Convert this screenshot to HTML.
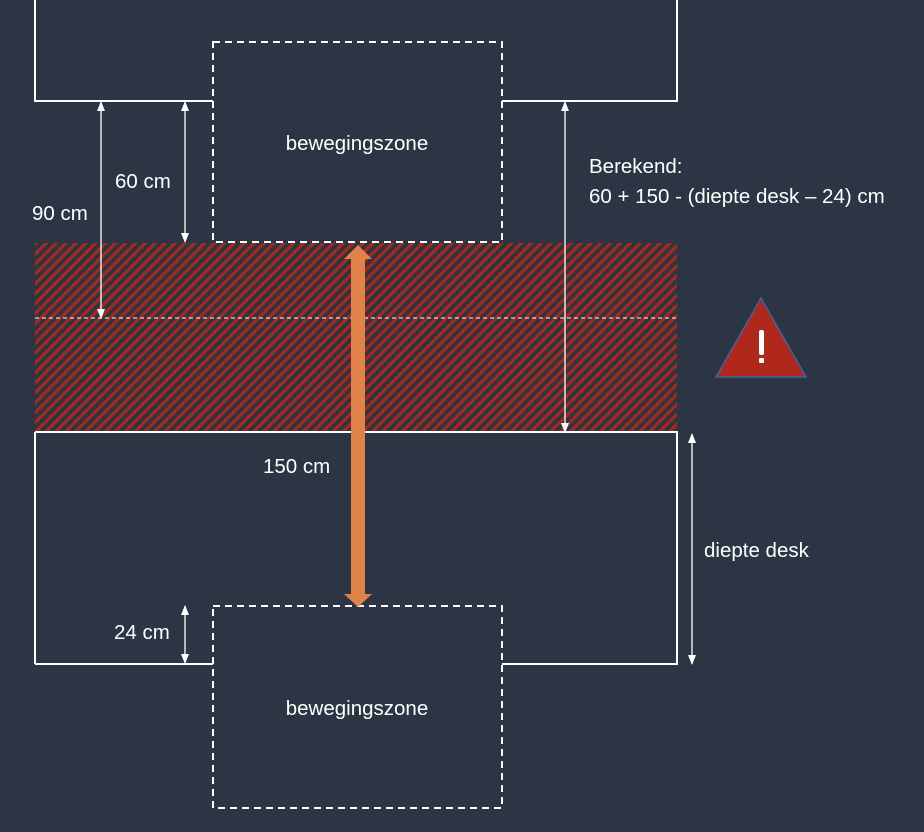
<!DOCTYPE html>
<html><head><meta charset="utf-8"><style>
html,body{margin:0;padding:0;background:#2b3544;}
svg{display:block;}
text{font-family:"Liberation Sans",sans-serif;fill:#fff;font-size:20.5px;}
</style></head><body>
<svg width="924" height="832" viewBox="0 0 924 832" xmlns="http://www.w3.org/2000/svg">
<defs>
<pattern id="h" patternUnits="userSpaceOnUse" width="7" height="7" patternTransform="rotate(45)">
<rect width="7" height="7" fill="#2b3544"/>
<rect width="3.2" height="7" fill="#a8281a"/>
</pattern>
<marker id="a" markerWidth="10" markerHeight="10" refX="9" refY="5" orient="auto-start-reverse" markerUnits="userSpaceOnUse">
<path d="M0,1 L10,5 L0,9 z" fill="#fff"/>
</marker>
</defs>
<rect width="924" height="832" fill="#2b3544"/>
<rect x="35" y="243" width="642" height="189" fill="url(#h)"/>
<line x1="35" y1="318" x2="677" y2="318" stroke="#fff" stroke-width="1" stroke-dasharray="4,3"/>
<path d="M35,0 V101 H213 M502,101 H677 V0" fill="none" stroke="#fff" stroke-width="2"/>
<path d="M35,432 H677 V664 H502 M213,664 H35 Z" fill="none" stroke="#fff" stroke-width="2"/>
<line x1="35" y1="432" x2="35" y2="664" stroke="#fff" stroke-width="2"/>
<rect x="213" y="42" width="289" height="200" fill="none" stroke="#fff" stroke-width="2" stroke-dasharray="7,5"/>
<rect x="213" y="606" width="289" height="202" fill="none" stroke="#fff" stroke-width="2" stroke-dasharray="7,5"/>
<text x="357" y="150" text-anchor="middle">bewegingszone</text>
<text x="357" y="715" text-anchor="middle">bewegingszone</text>
<g stroke="#fff" stroke-width="1.3" marker-start="url(#a)" marker-end="url(#a)">
<line x1="101" y1="102" x2="101" y2="318"/>
<line x1="185" y1="102" x2="185" y2="242"/>
<line x1="565" y1="102" x2="565" y2="432"/>
<line x1="692" y1="434" x2="692" y2="664"/>
<line x1="185" y1="606" x2="185" y2="663"/>
</g>
<text x="32" y="220">90 cm</text>
<text x="115" y="188">60 cm</text>
<text x="114" y="639">24 cm</text>
<text x="263" y="473">150 cm</text>
<text x="704" y="557">diepte desk</text>
<text x="589" y="173">Berekend:</text>
<text x="589" y="203">60 + 150 - (diepte desk – 24) cm</text>
<path d="M358,245 L372,259 L365,259 L365,594 L372,594 L358,607 L344,594 L351,594 L351,259 L344,259 Z" fill="#e0824a"/>
<path d="M761,298 L806,377 L716,377 Z" fill="#b0281c" stroke="#3f63a3" stroke-width="1.5"/>
<rect x="759" y="330" width="5" height="25" rx="2" fill="#fff"/>
<rect x="759" y="358" width="5" height="5" rx="1" fill="#fff"/>
</svg>
</body></html>
